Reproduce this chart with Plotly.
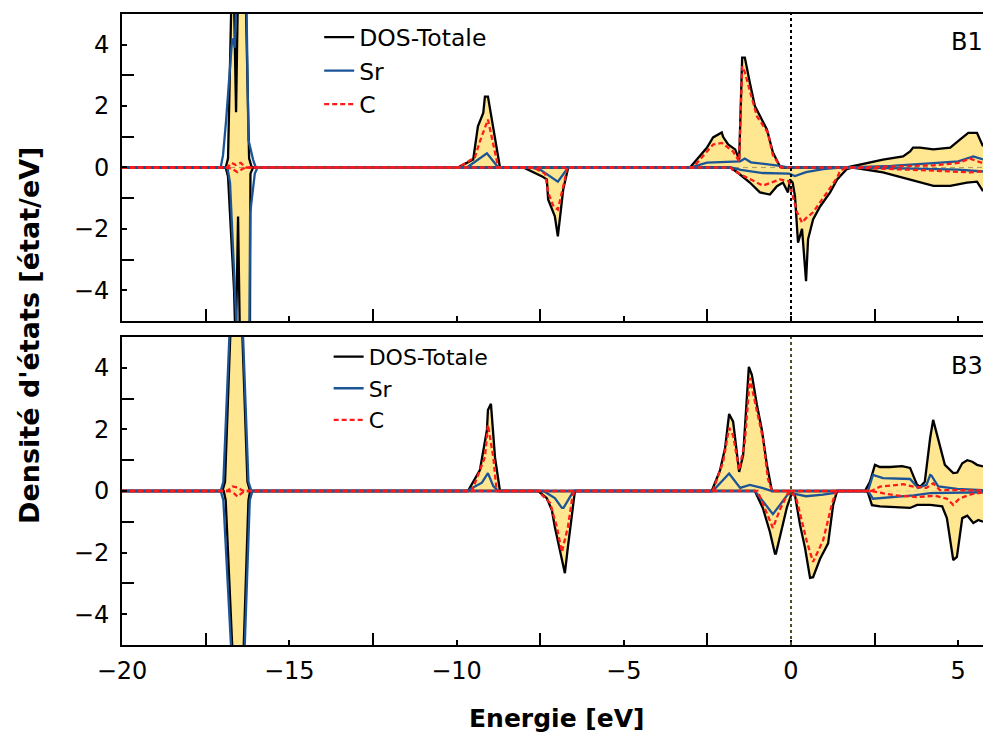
import plotly.graph_objects as go

# ---------------- data ----------------
# Panel B1, spin up
B1_tot_up_E = [-20, -16.9, -16.83, -16.74, -16.7, -16.66, -16.59, -16.53, -16.45, -16.3, -16.2, -16.12,
               -9.96, -9.5, -9.36, -9.2, -9.15, -9.06, -8.7,
               -3.02, -2.51, -2.33, -2.07, -2.03, -1.88, -1.67, -1.55, -1.46, -1.38, -1.23, -1.08, -0.72, -0.54, -0.33, -0.27,
               1.67, 2.75, 3.35, 3.56, 3.65, 3.86, 4.26, 4.66, 4.76, 5.05, 5.3, 5.56, 5.74]
B1_tot_up = [0, 0, 0.3, 5.5, 7, 6, 1.8, 6, 8, 5.5, 0.3, 0,
             0, 0.26, 1.34, 1.78, 2.31, 2.31, 0,
             0, 0.65, 0.98, 1.14, 1.0, 0.75, 0.59, 0.26, 3.58, 3.58, 2.76, 2.0, 1.24, 0.49, 0.03, 0,
             0, 0.26, 0.36, 0.52, 0.65, 0.65, 0.59, 0.62, 0.65, 0.91, 1.13, 1.13, 0.69]
B1_sr_up_E = [-20, -17.05, -16.98, -16.89, -16.72, -16.68, -16.63, -16.5, -16.28, -16.22, -16.08, -16.0,
              -9.69, -9.09, -8.75,
              -3.02, -2.51, -1.52, -1.38, -1.2, -0.33, -0.1,
              1.8, 3.0, 4.26, 5.0, 5.45, 5.74]
B1_sr_up = [0, 0, 0.4, 1.5, 4.0, 4.2, 3.9, 8, 5.5, 0.9, 0.25, 0,
            0, 0.46, 0,
            0, 0.16, 0.2, 0.29, 0.17, 0.05, 0,
            0, 0.05, 0.14, 0.2, 0.36, 0.26]
B1_c_up_E = [-20, -16.85, -16.72, -16.6, -16.45, -16.3,
             -9.96, -9.45, -9.3, -9.06, -8.75,
             -2.93, -2.33, -2.07, -1.73, -1.55, -1.46, -1.38, -1.23, -1.02, -0.69, -0.54, -0.3,
             1.9, 4.26, 5.0, 5.35, 5.74]
B1_c_up = [0, 0, 0.15, 0.08, 0.15, 0,
           0, 0.33, 0.85, 1.56, 0,
           0, 0.75, 0.8, 0.52, 0.2, 3.3, 3.1, 2.5, 1.67, 1.13, 0.4, 0,
           0, 0.07, 0.15, 0.29, 0.14]
# Panel B1, spin down
B1_tot_dn_E = [-20, -16.9, -16.83, -16.65, -16.6, -16.53, -16.47, -16.3, -16.18, -16.16, -16.08,
               -8.0, -7.44, -7.3, -7.26, -7.06, -6.97, -6.81, -6.66,
               -1.8, -1.58, -1.23, -0.93, -0.63, -0.42, -0.24, -0.09, -0.03, 0.05, 0.12, 0.21, 0.33, 0.45, 0.51, 0.66,
               0.87, 1.17, 1.38, 1.67, 1.85, 2.75, 3.86, 4.06, 4.26, 4.76, 5.26, 5.56, 5.74]
B1_tot_dn = [0, 0, -0.3, -4, -6, -1.6, -6, -8, -7, -0.2, 0,
             0, -0.29, -0.39, -1.04, -1.59, -2.24, -0.72, 0,
             0, -0.18, -0.49, -0.81, -0.88, -0.61, -0.49, -0.81, -0.39, -0.5, -0.94, -2.45, -2.0, -3.7, -2.34, -1.69,
             -1.27, -0.81, -0.39, -0.05, 0, -0.16, -0.49, -0.55, -0.6, -0.6, -0.49, -0.46, -0.77]
B1_sr_dn_E = [-20, -16.85, -16.77, -16.59, -16.5, -16.2, -16.17, -16.03, -15.95,
              -7.8, -7.5, -6.97, -6.66,
              -1.8, -1.5, -0.84, -0.06, 0.12, 0.45, 0.96, 1.47,
              3.0, 4.26, 5.0, 5.74]
B1_sr_dn = [0, 0, -0.5, -5, -7, -7, -1.5, -0.2, 0,
            0, -0.07, -0.46, 0,
            0, -0.08, -0.18, -0.2, -0.28, -0.15, -0.05, 0,
            -0.02, -0.05, -0.07, -0.13]
B1_c_dn_E = [-20, -16.85, -16.7, -16.55, -16.4, -16.3,
             -7.7, -7.35, -7.26, -7.1, -6.97, -6.76, -6.7,
             -1.8, -1.73, -0.84, -0.33, -0.06, 0.18, 0.33, 0.45, 0.66, 1.08, 1.38, 1.47, 1.7,
             4.26, 5.35, 5.74]
B1_c_dn = [0, 0, -0.05, -0.15, -0.05, 0,
           0, -0.2, -0.81, -1.27, -1.37, -0.39, 0,
           0, -0.1, -0.59, -0.39, -0.45, -1.46, -1.8, -1.65, -1.46, -0.81, -0.33, -0.1, 0,
           -0.1, -0.16, -0.12]

# Panel B3, spin up
B3_tot_up_E = [-20, -17.0, -16.92, -16.78, -16.6, -16.4, -16.25, -16.17,
               -9.66, -9.3, -9.09, -9.06, -8.97, -8.85, -8.7,
               -2.37, -2.12, -1.97, -1.85, -1.73, -1.55, -1.43, -1.26, -1.17, -1.02, -0.87, -0.72, -0.57,
               2.21, 2.36, 2.51, 2.66, 2.96, 3.32, 3.56, 3.77, 3.86, 4.0, 4.16, 4.25, 4.4, 4.6, 4.85, 4.97,
               5.12, 5.27, 5.42, 5.56, 5.74]
B3_tot_up = [0, 0, 0.3, 5, 10, 5, 0.3, 0,
             0, 0.68, 1.98, 2.63, 2.83, 1.1, 0,
             0, 0.68, 1.4, 2.5, 2.25, 0.62, 1.17, 4.03, 3.77, 2.8, 1.98, 0.85, 0,
             0, 0.3, 0.85, 0.78, 0.78, 0.81, 0.75, 0.2, 0.14, 0.3, 1.72, 2.31, 1.72, 0.85, 0.58, 0.6,
             0.9, 1.0, 0.95, 0.85, 0.8]
B3_sr_up_E = [-20, -17.05, -16.97, -16.8, -16.6, -16.38, -16.22, -16.13,
              -9.7, -9.24, -9.06, -8.9, -8.75,
              -2.34, -1.85, -1.52, -1.23, -0.84, -0.57,
              2.3, 2.45, 2.75, 3.56, 3.8, 4.05, 4.16, 4.2, 4.4, 4.97, 5.74]
B3_sr_up = [0, 0, 0.3, 5, 10, 5, 0.3, 0,
            0, 0.27, 0.58, 0.16, 0,
            0, 0.57, 0.1, 0.2, 0.09, 0,
            0, 0.52, 0.42, 0.39, 0.1, 0.2, 0.52, 0.5, 0.15, 0.07, 0.03]
B3_c_up_E = [-20, -16.85, -16.7, -16.55, -16.45, -16.35,
             -9.54, -9.15, -9.06, -8.9, -8.8,
             -2.34, -2.03, -1.85, -1.73, -1.55, -1.38, -1.23, -1.02, -0.84, -0.69, -0.57,
             2.4, 2.66, 3.36, 3.66, 4.05, 4.25, 4.45, 5.74]
B3_c_up = [0, 0, 0.15, 0.12, 0.05, 0,
           0, 1.1, 2.15, 1.1, 0,
           0, 0.94, 2.05, 1.8, 0.68, 1.6, 3.67, 2.6, 1.72, 0.4, 0,
           0, 0.14, 0.22, 0.14, 0.1, 0.25, 0.03, 0.02]
# Panel B3, spin down
B3_tot_dn_E = [-20, -16.96, -16.9, -16.66, -16.5, -16.36, -16.22, -16.17,
               -7.56, -7.3, -7.15, -7.06, -6.9, -6.76, -6.67, -6.55, -6.46,
               -1.08, -0.84, -0.63, -0.48, -0.45, -0.27, -0.12, 0.03, 0.12, 0.27, 0.42, 0.57, 0.66, 0.87, 1.11, 1.26, 1.38,
               2.21, 2.3, 2.42, 2.66, 3.56, 3.77, 4.16, 4.52, 4.66, 4.76, 4.85, 4.96, 5.12, 5.27, 5.45, 5.6, 5.74]
B3_tot_dn = [0, 0, -0.3, -5, -10, -5, -0.3, 0,
             0, -0.23, -0.62, -1.17, -1.92, -2.67, -1.82, -0.72, 0,
             0, -0.56, -1.33, -2.03, -2.03, -1.2, -0.52, -0.05, -0.15, -1.1, -1.85, -2.82, -2.8, -2.2, -1.7, -0.45, 0,
             0, -0.05, -0.46, -0.5, -0.55, -0.45, -0.45, -0.5, -0.88, -1.53, -2.24, -2.14, -0.88, -0.8, -1.04, -0.94, -1.0]
B3_sr_dn_E = [-20, -17.05, -16.97, -16.7, -16.5, -16.33, -16.18, -16.1,
              -7.4, -7.06, -6.85, -6.8, -6.6, -6.5,
              -1.08, -0.54, -0.33, -0.09, 0.15, 0.45, 0.96, 1.26, 1.38,
              2.3, 2.45, 3.66, 4.16, 5.74]
B3_sr_dn = [0, 0, -0.3, -5, -10, -5, -0.3, 0,
            0, -0.23, -0.55, -0.55, -0.2, 0,
            0, -0.75, -0.45, -0.1, -0.1, -0.17, -0.12, -0.07, 0,
            0, -0.25, -0.14, -0.07, -0.04]
B3_c_dn_E = [-20, -16.8, -16.65, -16.55, -16.4, -16.3,
             -7.56, -7.2, -7.0, -6.85, -6.67, -6.55, -6.48,
             -1.0, -0.54, -0.33, -0.06, 0.15, 0.48, 0.66, 0.96, 1.23, 1.35,
             2.4, 3.1, 3.77, 4.3, 4.66, 4.85, 5.03, 5.4, 5.74]
B3_c_dn = [0, 0, -0.08, -0.18, -0.05, 0,
           0, -0.39, -1.17, -1.98, -1.17, -0.3, 0,
           0, -1.2, -0.6, 0, -0.2, -1.67, -2.3, -1.6, -0.4, 0,
           0, -0.14, -0.2, -0.15, -0.25, -0.45, -0.25, -0.1, -0.05]

legend_labels = ["DOS-Totale", "Sr", "C"]
panel_labels = ["B1", "B3"]
x_range = [-20, 5.74]
y_range = [-5, 5]

# ---------------- styles ----------------
FONT = "DejaVu Sans"
FILL = "rgba(255,228,135,0.92)"
BLACK = "black"
BLUE = "#1b5597"
RED = "#ff1a1a"

fig = go.Figure()

panels = [
    dict(xa="x", ya="y", leg="legend",
         tot=[(B1_tot_up_E, B1_tot_up), (B1_tot_dn_E, B1_tot_dn)],
         sr=[(B1_sr_up_E, B1_sr_up), (B1_sr_dn_E, B1_sr_dn)],
         c=[(B1_c_up_E, B1_c_up), (B1_c_dn_E, B1_c_dn)]),
    dict(xa="x2", ya="y2", leg="legend2",
         tot=[(B3_tot_up_E, B3_tot_up), (B3_tot_dn_E, B3_tot_dn)],
         sr=[(B3_sr_up_E, B3_sr_up), (B3_sr_dn_E, B3_sr_dn)],
         c=[(B3_c_up_E, B3_c_up), (B3_c_dn_E, B3_c_dn)]),
]

for p in panels:
    for (ex, ey) in p["tot"]:
        fig.add_trace(go.Scatter(x=ex, y=ey, mode="lines", line=dict(width=0, color=FILL),
                                 fill="tozeroy", fillcolor=FILL, showlegend=False,
                                 hoverinfo="skip", xaxis=p["xa"], yaxis=p["ya"]))
    for key, name, col, dash in [("tot", legend_labels[0], BLACK, "solid"),
                                 ("sr", legend_labels[1], BLUE, "solid"),
                                 ("c", legend_labels[2], RED, "5px,3px")]:
        for i, (ex, ey) in enumerate(p[key]):
            fig.add_trace(go.Scatter(x=ex, y=ey, mode="lines", name=name,
                                     line=dict(color=col, width=2.3, dash=dash),
                                     showlegend=(i == 0), legend=p["leg"],
                                     xaxis=p["xa"], yaxis=p["ya"]))

top_dom = [0.5135, 1.0]
bot_dom = [0.0, 0.4881]

common_x = dict(range=x_range, showline=True, linewidth=2, linecolor="black", mirror=True,
                ticks="inside", ticklen=5, tickwidth=1.5, tickcolor="black",
                dtick=5, tick0=0, showgrid=False, zeroline=False, ticklabelstandoff=3,
                minor=dict(dtick=2.5, tick0=0, ticks="inside", ticklen=12, tickwidth=1.5,
                           tickcolor="black", showgrid=False),
                tickfont=dict(family=FONT, size=24, color="black"))
common_y = dict(range=y_range, showline=True, linewidth=2, linecolor="black", mirror=False,
                ticks="inside", ticklen=5, tickwidth=1.5, tickcolor="black",
                dtick=2, tick0=0, showgrid=False, zeroline=False, ticklabelstandoff=6,
                minor=dict(dtick=1, tick0=0, ticks="inside", ticklen=12, tickwidth=1.5,
                           tickcolor="black", showgrid=False),
                tickfont=dict(family=FONT, size=24, color="black"))

fig.update_layout(
    width=983, height=736, autosize=False,
    margin=dict(l=122, r=0, t=14, b=91),
    paper_bgcolor="white", plot_bgcolor="white",
    font=dict(family=FONT, color="black"),
    xaxis=dict(common_x, anchor="y", domain=[0, 1], showticklabels=False),
    xaxis2=dict(common_x, anchor="y2", domain=[0, 1], matches="x"),
    yaxis=dict(common_y, anchor="x", domain=top_dom),
    yaxis2=dict(common_y, anchor="x2", domain=bot_dom),
    legend=dict(x=0.229, y=0.998, xanchor="left", yanchor="top", bgcolor="rgba(0,0,0,0)",
                font=dict(family=FONT, size=23.5, color="black"), tracegroupgap=0),
    legend2=dict(x=0.24, y=0.4899, xanchor="left", yanchor="top", bgcolor="rgba(0,0,0,0)",
                 font=dict(family=FONT, size=22, color="black"), tracegroupgap=0),
)

# reference lines: Fermi level and zero line
for xa, ya, col in [("x", "y", "black"), ("x2", "y2", "#4b5320")]:
    fig.add_shape(type="line", xref=xa, yref=ya + " domain", x0=0, x1=0, y0=0, y1=1,
                  line=dict(color=col, width=2, dash="3px,3px"), layer="above")
    fig.add_shape(type="line", xref=xa + " domain", yref=ya, x0=0, x1=1, y0=0, y1=0,
                  line=dict(color=col, width=1.5, dash="5px,4px"), layer="below")

# panel labels
fig.add_annotation(text=panel_labels[0], xref="x domain", yref="y domain", x=0.961, y=0.91,
                   xanchor="left", yanchor="middle", showarrow=False,
                   font=dict(family=FONT, size=24, color="black"))
fig.add_annotation(text=panel_labels[1], xref="x2 domain", yref="y2 domain", x=0.961, y=0.905,
                   xanchor="left", yanchor="middle", showarrow=False,
                   font=dict(family=FONT, size=24, color="black"))

# axis titles
fig.add_annotation(text="<b>Energie [eV]</b>", xref="paper", yref="paper", x=0.5052, y=-0.1157,
                   xanchor="center", yanchor="middle", showarrow=False,
                   font=dict(family=FONT, size=25, color="black"))
fig.add_annotation(text="<b>Densité d'états [état/eV]</b>", xref="paper", yref="paper",
                   x=-0.1069, y=0.4913, xanchor="center", yanchor="middle", textangle=-90,
                   showarrow=False, font=dict(family=FONT, size=27, color="black"))

# remove the default page margin so the figure fills the 983x736 window exactly
fig.write_html("out.html", config={"displayModeBar": False},
               post_script="document.body.style.margin='0';document.body.style.overflow='hidden';")
